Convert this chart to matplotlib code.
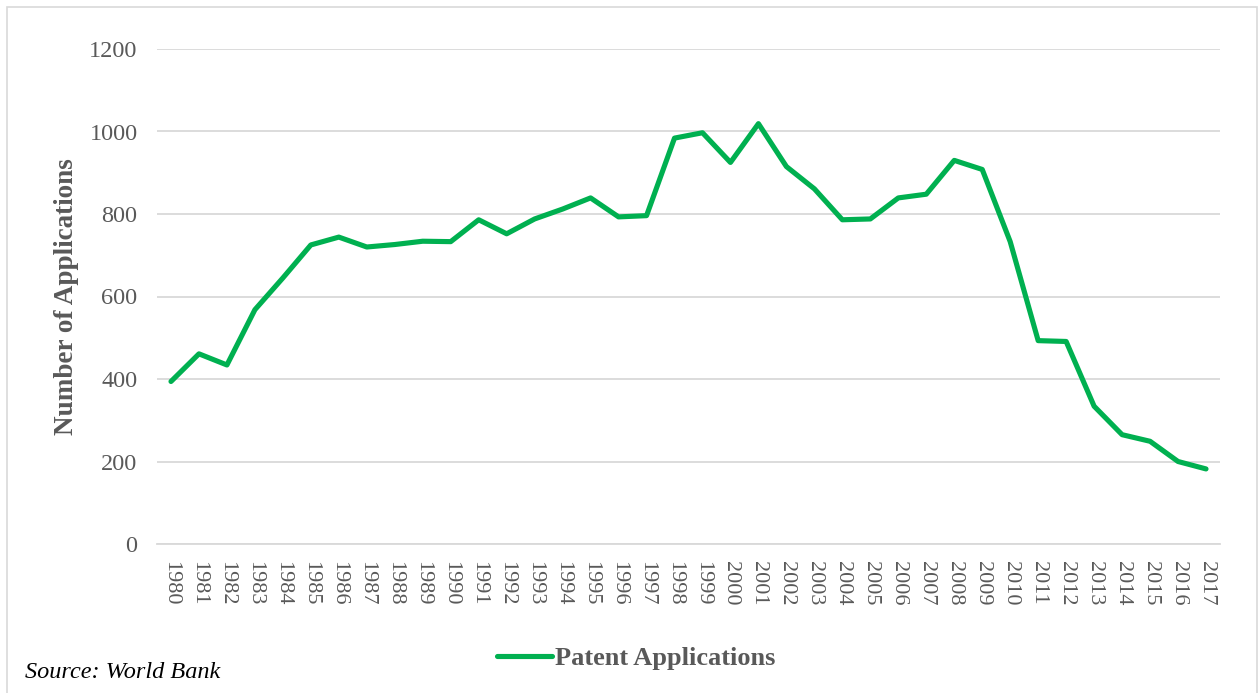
import matplotlib.pyplot as plt
import numpy as np

years = [str(y) for y in range(1980, 2018)]
applications = [
    394, 461, 434, 568, 645, 725, 744, 720, 726, 734,
    733, 786, 752, 788, 812, 839, 793, 796, 984, 997,
    925, 1019, 915, 861, 786, 788, 839, 848, 930, 908,
    733, 493, 491, 334, 265, 249, 200, 182,
]
y_ticks = [0, 200, 400, 600, 800, 1000, 1200]

green = '#00B050'
grey_text = '#595959'
grid_grey = '#D9D9D9'

plt.rcParams['font.family'] = ['Liberation Serif', 'DejaVu Serif']

W, H = 1258, 693
fig = plt.figure(figsize=(W / 100, H / 100), dpi=100)
ax = fig.add_axes([157 / W, 1 - 544 / H, (1220 - 157) / W, (544 - 49) / H])

x = np.arange(len(years))
line, = ax.plot(x, applications, color=green, lw=3.7,
                solid_capstyle='round', solid_joinstyle='round',
                label='Patent Applications', zorder=3)

ax.set_xlim(-0.5, len(years) - 0.5)
ax.set_ylim(0, 1200)
ax.set_yticks(y_ticks)
ax.set_yticklabels([str(v) for v in y_ticks])
ax.set_xticks(x)
ax.set_xticklabels(years, rotation=-90, ha='center', va='top')

ax.grid(axis='y', color=grid_grey, lw=1.3)
ax.set_axisbelow(True)
for side in ['top', 'right', 'left']:
    ax.spines[side].set_visible(False)
ax.spines['bottom'].set_color(grid_grey)
ax.spines['bottom'].set_linewidth(1.3)

ax.tick_params(axis='y', length=0, pad=14, labelsize=17.5, labelcolor=grey_text)
ax.tick_params(axis='x', length=0, pad=12, labelsize=16, labelcolor=grey_text)

fig.text(67 / W, 1 - 297 / H, 'Number of Applications', rotation=90,
         ha='center', va='center', fontsize=19.5, fontweight='bold', color=grey_text)

leg = fig.legend(handles=[line], loc='center', bbox_to_anchor=(636 / W, 1 - 658 / H),
                 frameon=False, handlelength=2.1, handletextpad=0.1,
                 prop={'size': 19, 'weight': 'bold'})
for t in leg.get_texts():
    t.set_color(grey_text)

fig.text(25 / W, 1 - 673 / H, 'Source: World Bank', ha='left', va='center',
         fontsize=17.5, style='italic', color='black')

# light border round the chart area
fig.add_artist(plt.Rectangle((7 / W, -0.05), (1257 - 7) / W, 1.05 - 7 / H,
                             transform=fig.transFigure, fill=False,
                             edgecolor=grid_grey, lw=1.2))

fig.savefig('out.png', dpi=100)
